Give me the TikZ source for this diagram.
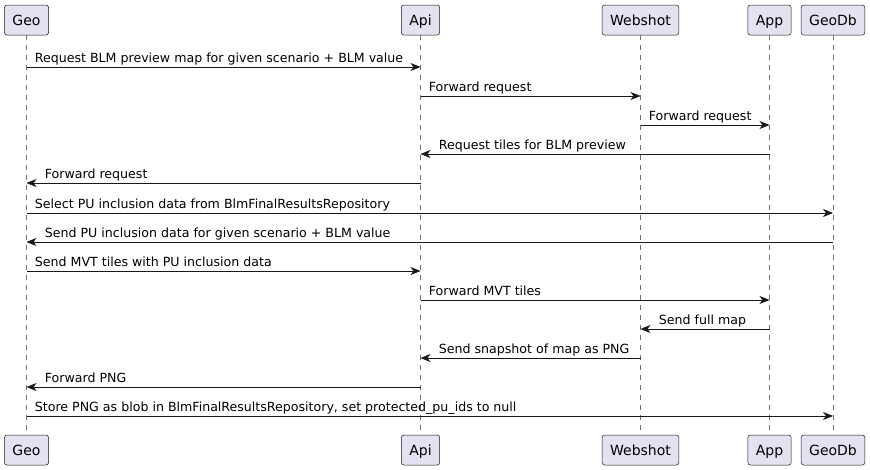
\documentclass[tikz,border=0pt]{standalone}
\usepackage{fontspec}
\setmainfont{DejaVu Sans}
\usetikzlibrary{arrows.meta}

\definecolor{partfill}{HTML}{E2E2F0}
\definecolor{partline}{HTML}{181818}
\definecolor{lifegrey}{HTML}{707070}

% message from a left lifeline to a right one, and back
\newcommand{\sendright}[4]{\draw[msg] (#1.south |- 0,#3) -- (#2.south |- 0,#3) node[msglabel, at start, xshift=8pt] {#4};}
\newcommand{\sendleft}[4]{\draw[msg] (#2.south |- 0,#3) -- (#1.south |- 0,#3) node[msglabel, at end, xshift=18pt] {#4};}

\begin{document}
\begin{tikzpicture}[x=1pt, y=-1pt, font=\fontsize{12.6pt}{15pt}\selectfont,
  participant/.style={draw=partline, fill=partfill, line width=0.5pt, rounded corners=2.5pt, minimum height=30pt, inner xsep=8pt, inner ysep=0pt, text height=10.5pt, text depth=0pt, font=\fontsize{14pt}{16pt}\selectfont},
  lifeline/.style={draw=lifegrey, line width=0.5pt, dash pattern=on 5pt off 5pt},
  msg/.style={draw=partline, line width=0.8pt, -{Stealth[length=10pt, width=8pt, inset=3pt]}},
  msglabel/.style={anchor=base west, inner sep=0pt, yshift=5pt, text=black}]

  \useasboundingbox (0,0) rectangle (870,469);

  % participants, top and bottom
  \node[participant] (geoTop) at (26.5,20) {Geo};
  \node[participant] (apiTop) at (420.5,20) {Api};
  \node[participant] (webshotTop) at (640.5,20) {Webshot};
  \node[participant] (appTop) at (769.5,20) {App};
  \node[participant] (geodbTop) at (833,20) {GeoDb};

  \node[participant] (geoBot) at (26.5,450) {Geo};
  \node[participant] (apiBot) at (420.5,450) {Api};
  \node[participant] (webshotBot) at (640.5,450) {Webshot};
  \node[participant] (appBot) at (769.5,450) {App};
  \node[participant] (geodbBot) at (833,450) {GeoDb};

  \foreach \p in {geo, api, webshot, app, geodb}
    \draw[lifeline] (\p Top.south) -- (\p Bot.north);

  % messages
  \sendright{geoTop}{apiTop}{67}{Request BLM preview map for given scenario + BLM value}
  \sendright{apiTop}{webshotTop}{96}{Forward request}
  \sendright{webshotTop}{appTop}{125}{Forward request}
  \sendleft{apiTop}{appTop}{154}{Request tiles for BLM preview}
  \sendleft{geoTop}{apiTop}{183}{Forward request}
  \sendright{geoTop}{geodbTop}{213}{Select PU inclusion data from BlmFinalResultsRepository}
  \sendleft{geoTop}{geodbTop}{242}{Send PU inclusion data for given scenario + BLM value}
  \sendright{geoTop}{apiTop}{271}{Send MVT tiles with PU inclusion data}
  \sendright{apiTop}{appTop}{300}{Forward MVT tiles}
  \sendleft{webshotTop}{appTop}{329}{Send full map}
  \sendleft{apiTop}{webshotTop}{358}{Send snapshot of map as PNG}
  \sendleft{geoTop}{apiTop}{387}{Forward PNG}
  \sendright{geoTop}{geodbTop}{416}{Store PNG as blob in BlmFinalResultsRepository, set protected\_pu\_ids to null}
\end{tikzpicture}
\end{document}
